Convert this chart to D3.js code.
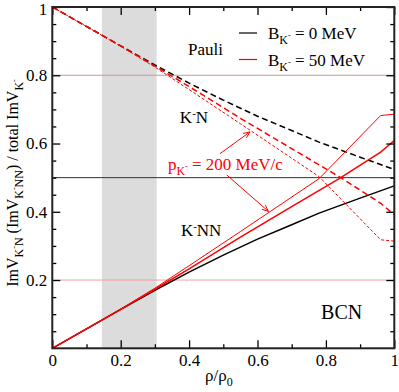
<!DOCTYPE html>
<html>
<head>
<meta charset="utf-8">
<script src="https://cdn.jsdelivr.net/npm/d3@7"></script>
<style>
  body { margin: 0; background: #fff; }
  svg { display: block; }
</style>
</head>
<body>
<svg id="chart" width="399" height="392"></svg>
<script>
// ---- data ----
// K-NN fraction (solid) and K-N fraction (dashed), B = 0 MeV
var rhoB0 = [0, 0.1, 0.2, 0.3, 0.4, 0.5, 0.6, 0.7, 0.78, 0.9, 1.0];
var knnB0 = [0, 0.057, 0.114, 0.170, 0.223, 0.273, 0.320, 0.362, 0.396, 0.440, 0.476];
var knB0  = [1, 0.943, 0.886, 0.830, 0.777, 0.727, 0.680, 0.638, 0.604, 0.560, 0.524];

// B = 50 MeV, p = 0
var rhoB50 = [0, 0.1, 0.2, 0.3, 0.4, 0.55, 0.7, 0.84, 0.96, 1.0];
var knnB50 = [0, 0.057, 0.114, 0.173, 0.233, 0.326, 0.415, 0.498, 0.575, 0.609];
var knB50  = [1, 0.943, 0.886, 0.827, 0.767, 0.674, 0.585, 0.502, 0.425, 0.391];

// B = 50 MeV, p = 200 MeV/c
var rhoP200 = [0, 0.1, 0.2, 0.3, 0.4, 0.55, 0.78, 0.96, 1.0];
var knnP200 = [0, 0.057, 0.115, 0.176, 0.242, 0.342, 0.497, 0.682, 0.686];
var knP200  = [1, 0.943, 0.885, 0.824, 0.758, 0.658, 0.503, 0.318, 0.314];

var bandRange = [0.145, 0.305];
var refLines = [0.8, 0.5, 0.2];
var refColors = ['#c09a9a', '#333333', '#f4a0a0'];

var xTicks = [0, 0.2, 0.4, 0.6, 0.8, 1];
var xTickLabels = ['0', '0.2', '0.4', '0.6', '0.8', '1'];
var xMinor = [0.1, 0.3, 0.5, 0.7, 0.9];
var yTicks = [0.2, 0.4, 0.6, 0.8, 1];
var yTickLabels = ['0.2', '0.4', '0.6', '0.8', '1'];
var yMinor = [0.05, 0.1, 0.15, 0.25, 0.3, 0.35, 0.45, 0.5, 0.55, 0.65, 0.7, 0.75, 0.85, 0.9, 0.95];

// ---- layout ----
var FONT = '"Liberation Serif", "Times New Roman", "DejaVu Serif", serif';
var svg = d3.select('#chart');
var x = d3.scaleLinear().domain([0, 1]).range([52.3, 394.3]);
var y = d3.scaleLinear().domain([0, 1]).range([348.3, 7]);

function zip(xs, ys) {
    return xs.map(function (v, i) { return [v, ys[i]]; });
}

// append a list of text pieces; shift is the baseline offset in px (positive = down)
function richText(sel, parts) {
    var cur = 0;
    parts.forEach(function (p) {
        var shift = p.shift || 0;
        sel.append('tspan')
            .attr('dy', shift - cur)
            .attr('font-size', p.size || null)
            .text(p.t);
        cur = shift;
    });
}

// grey band
svg.append('rect')
    .attr('x', x(bandRange[0]))
    .attr('y', y(1))
    .attr('width', x(bandRange[1]) - x(bandRange[0]))
    .attr('height', y(0) - y(1))
    .attr('fill', '#dcdcdc');

// horizontal reference lines
svg.selectAll('.ref').data(refLines).enter()
    .append('line')
    .attr('x1', x(0)).attr('x2', x(1))
    .attr('y1', function (d) { return y(d); })
    .attr('y2', function (d) { return y(d); })
    .attr('stroke', function (d, i) { return refColors[i]; })
    .attr('stroke-width', 1);

// curves
var line = d3.line().x(function (d) { return x(d[0]); }).y(function (d) { return y(d[1]); });
var series = [
    { pts: zip(rhoB0, knB0), color: '#000', w: 1.5, dash: '6,3.5' },
    { pts: zip(rhoB0, knnB0), color: '#000', w: 1.5, dash: null },
    { pts: zip(rhoP200, knP200), color: '#ff0000', w: 1, dash: '3,2' },
    { pts: zip(rhoB50, knB50), color: '#ff0000', w: 1.5, dash: '6,3.5' },
    { pts: zip(rhoP200, knnP200), color: '#ff0000', w: 1, dash: null },
    { pts: zip(rhoB50, knnB50), color: '#ff0000', w: 1.5, dash: null }
];
svg.selectAll('.curve').data(series).enter()
    .append('path')
    .attr('d', function (d) { return line(d.pts); })
    .attr('fill', 'none')
    .attr('stroke', function (d) { return d.color; })
    .attr('stroke-width', function (d) { return d.w; })
    .attr('stroke-dasharray', function (d) { return d.dash; });

// axes, ticks pointing inwards on all four sides
function styleAxis(g) {
    g.select('.domain').remove();
    g.selectAll('line').attr('stroke', '#000').attr('stroke-width', 1.3);
    g.selectAll('text').attr('font-family', FONT).attr('font-size', 17).attr('fill', '#000');
}
var h = y(0), w = x(1);
svg.append('g').attr('transform', 'translate(0,' + h + ')')
    .call(d3.axisBottom(x).tickValues(xTicks).tickSize(-8).tickPadding(6)
        .tickFormat(function (d, i) { return xTickLabels[i]; }))
    .call(styleAxis);
svg.append('g').attr('transform', 'translate(0,' + h + ')')
    .call(d3.axisBottom(x).tickValues(xMinor).tickSize(-4).tickFormat(''))
    .call(styleAxis);
svg.append('g').attr('transform', 'translate(0,' + y(1) + ')')
    .call(d3.axisTop(x).tickValues(xTicks).tickSize(-8).tickFormat(''))
    .call(styleAxis);
svg.append('g').attr('transform', 'translate(0,' + y(1) + ')')
    .call(d3.axisTop(x).tickValues(xMinor).tickSize(-4).tickFormat(''))
    .call(styleAxis);
var yAxisG = svg.append('g').attr('transform', 'translate(' + x(0) + ',0)')
    .call(d3.axisLeft(y).tickValues(yTicks).tickSize(-8).tickPadding(5)
        .tickFormat(function (d, i) { return yTickLabels[i]; }))
    .call(styleAxis);
// the top label sits a little lower so it stays inside the picture
yAxisG.selectAll('.tick text').filter(function (d) { return d === 1; }).attr('dy', '0.45em');
svg.append('g').attr('transform', 'translate(' + x(0) + ',0)')
    .call(d3.axisLeft(y).tickValues(yMinor).tickSize(-4).tickFormat(''))
    .call(styleAxis);
svg.append('g').attr('transform', 'translate(' + w + ',0)')
    .call(d3.axisRight(y).tickValues(yTicks).tickSize(-8).tickFormat(''))
    .call(styleAxis);
svg.append('g').attr('transform', 'translate(' + w + ',0)')
    .call(d3.axisRight(y).tickValues(yMinor).tickSize(-4).tickFormat(''))
    .call(styleAxis);

// frame
svg.append('rect')
    .attr('x', x(0)).attr('y', y(1))
    .attr('width', x(1) - x(0)).attr('height', y(0) - y(1))
    .attr('fill', 'none').attr('stroke', '#222').attr('stroke-width', 2);

// axis titles
var xt = svg.append('text')
    .attr('x', 205).attr('y', 381)
    .attr('font-family', FONT).attr('font-size', 17);
richText(xt, [{ t: 'ρ/ρ' }, { t: '0', shift: 5, size: 12 }]);

var yt = svg.append('text')
    .attr('transform', 'translate(18,183) rotate(-90)')
    .attr('text-anchor', 'middle')
    .attr('font-family', FONT).attr('font-size', 16);
richText(yt, [
    { t: 'ImV' }, { t: 'K', shift: 5, size: 12 }, { t: '-', shift: -1, size: 8 }, { t: 'N', shift: 5, size: 12 },
    { t: ' (ImV' }, { t: 'K', shift: 5, size: 12 }, { t: '-', shift: -1, size: 8 }, { t: 'NN', shift: 5, size: 12 },
    { t: ') / total ImV' }, { t: 'K', shift: 5, size: 12 }, { t: '-', shift: -1, size: 8 }
]);

// labels inside the plot
function label(px, py, parts, color, size) {
    var t = svg.append('text')
        .attr('x', x(px)).attr('y', y(py))
        .attr('font-family', FONT).attr('font-size', size || 17)
        .attr('fill', color || '#000');
    richText(t, parts);
}
label(0.397, 0.860, [{ t: 'Pauli' }]);
label(0.373, 0.660, [{ t: 'K' }, { t: '-', shift: -6, size: 11 }, { t: 'N' }]);
label(0.376, 0.329, [{ t: 'K' }, { t: '-', shift: -6, size: 11 }, { t: 'NN' }]);
label(0.786, 0.085, [{ t: 'BCN' }], '#000', 20);
label(0.338, 0.523, [{ t: 'p' }, { t: 'K', shift: 5, size: 12 }, { t: '-', shift: -1, size: 8 },
    { t: ' = 200 MeV/c' }], '#ff0000', 17);

// arrows from the momentum label
var arrows = [
    [[0.490, 0.570], [0.578, 0.634]],
    [[0.510, 0.508], [0.632, 0.401]]
];
arrows.forEach(function (a) {
    var x1 = x(a[0][0]), y1 = y(a[0][1]), x2 = x(a[1][0]), y2 = y(a[1][1]);
    var ang = Math.atan2(y2 - y1, x2 - x1), L = 7, s = 0.4;
    svg.append('line')
        .attr('x1', x1).attr('y1', y1).attr('x2', x2).attr('y2', y2)
        .attr('stroke', '#ff0000').attr('stroke-width', 1);
    svg.append('path')
        .attr('d', 'M' + (x2 - L * Math.cos(ang - s)) + ',' + (y2 - L * Math.sin(ang - s)) +
            'L' + x2 + ',' + y2 +
            'L' + (x2 - L * Math.cos(ang + s)) + ',' + (y2 - L * Math.sin(ang + s)))
        .attr('fill', 'none').attr('stroke', '#ff0000').attr('stroke-width', 1);
});

// legend
var legend = [
    { color: '#000', parts: [{ t: 'B' }, { t: 'K', shift: 5, size: 12 }, { t: '-', shift: -1, size: 8 }, { t: ' = 0 MeV' }] },
    { color: '#ff0000', parts: [{ t: 'B' }, { t: 'K', shift: 5, size: 12 }, { t: '-', shift: -1, size: 8 }, { t: ' = 50 MeV' }] }
];
var lg = svg.append('g').attr('transform', 'translate(239,33)');
legend.forEach(function (d, i) {
    var g = lg.append('g').attr('transform', 'translate(0,' + (i * 26.5) + ')');
    g.append('line').attr('x1', 0).attr('x2', 18).attr('y1', 0).attr('y2', 0)
        .attr('stroke', d.color).attr('stroke-width', 1.2);
    var t = g.append('text').attr('x', 29).attr('y', 6)
        .attr('font-family', FONT).attr('font-size', 17).attr('fill', '#000');
    richText(t, d.parts);
});
</script>
</body>
</html>
